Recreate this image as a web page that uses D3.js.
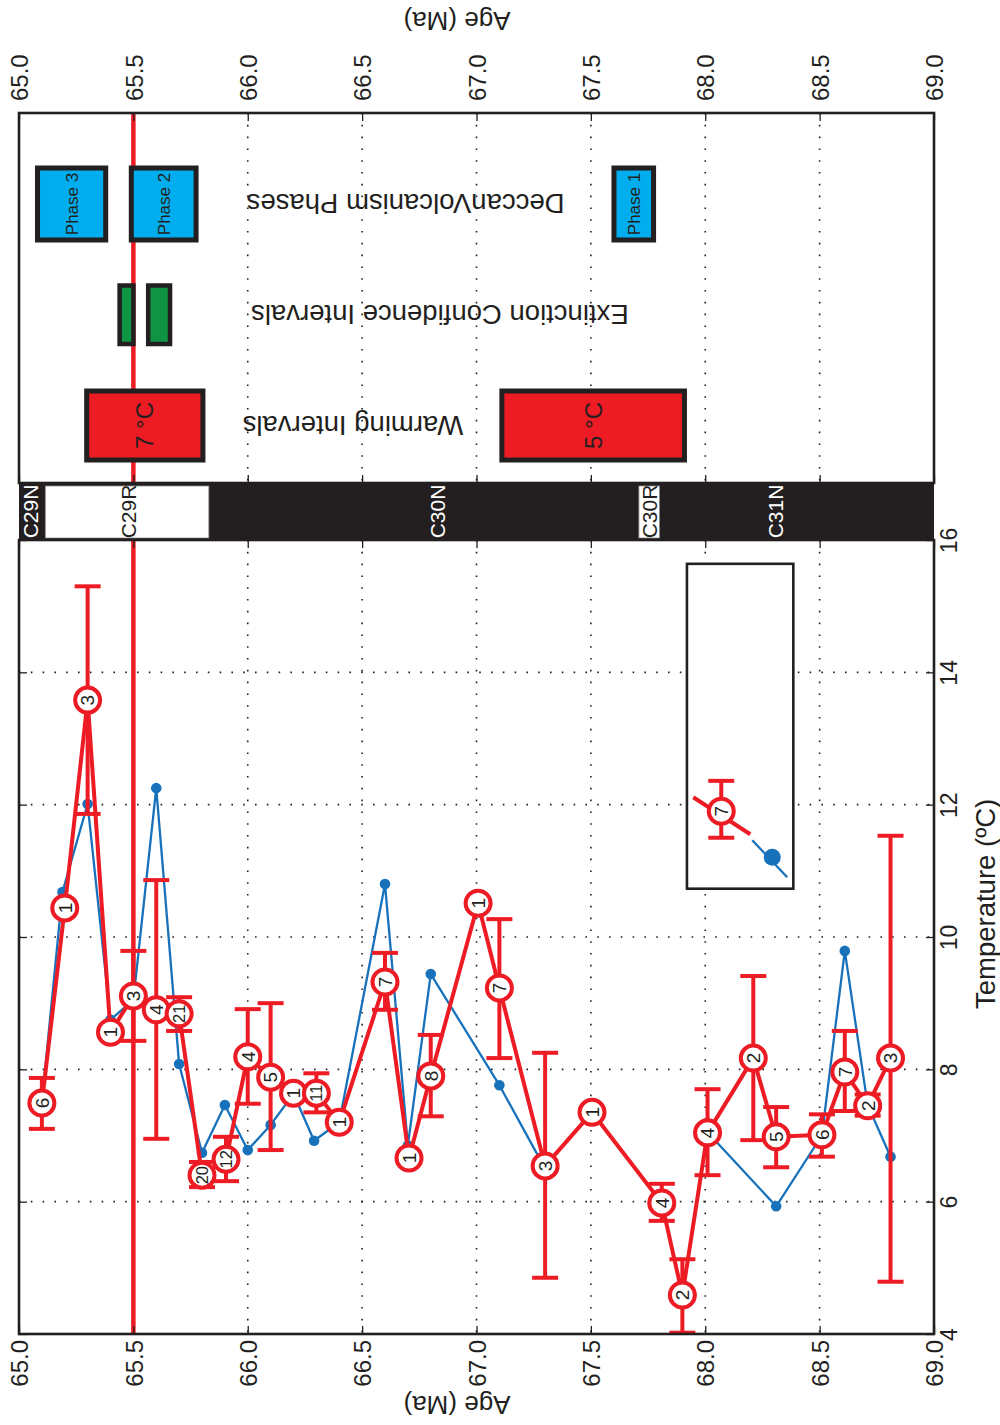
<!DOCTYPE html>
<html><head><meta charset="utf-8">
<script src="https://cdn.jsdelivr.net/npm/d3@7"></script>
<style>
body{margin:0;background:#fff}
svg{display:block}
text{font-family:"Liberation Sans",Arial,Helvetica,sans-serif}
</style>
</head><body>
<svg id="c" width="1000" height="1425"></svg>
<script>
// ---------------- data ----------------
const ageTicks = [65.0,65.5,66.0,66.5,67.0,67.5,68.0,68.5,69.0];
const tempTicks = [4,6,8,10,12,14,16];

const redAge  = [65.10,65.20,65.30,65.40,65.50,65.60,65.70,65.80,65.905,66.00,66.10,66.20,66.30,66.40,66.60,66.705,66.80,67.007,67.10,67.30,67.505,67.81,67.90,68.01,68.21,68.31,68.51,68.61,68.71,68.81];
const redTemp = [7.49,10.44,13.58,8.56,9.11,8.90,8.84,6.40,6.64,8.19,7.88,7.64,7.64,7.20,9.32,6.66,7.90,10.51,9.23,6.54,7.35,5.98,4.59,7.04,8.17,6.98,7.01,7.96,7.45,8.17];
const redN    = [6,1,3,1,3,4,21,20,12,4,5,1,11,1,7,1,8,1,7,3,1,4,2,4,2,5,6,7,2,3];
const redHi   = [7.87,null,15.30,null,9.79,10.86,9.09,6.60,6.98,8.91,9.00,null,7.94,null,9.76,null,8.52,null,10.27,8.25,null,6.27,5.13,7.70,9.41,7.43,7.32,8.58,7.62,11.53];
const redLo   = [7.10,null,11.86,null,8.43,6.95,8.58,6.22,6.31,7.48,6.78,null,7.35,null,8.90,null,7.29,null,8.17,4.85,null,5.71,4.02,6.40,6.93,6.52,6.68,7.37,7.30,4.79];

const blueAge  = [65.10,65.19,65.30,65.40,65.50,65.60,65.70,65.80,65.90,66.00,66.10,66.20,66.29,66.40,66.60,66.70,66.80,67.10,67.30,67.65,68.01,68.31,68.51,68.61,68.71,68.81];
const blueTemp = [7.50,10.68,12.01,8.75,9.05,12.25,8.08,6.74,7.46,6.78,7.16,7.63,6.92,7.20,10.80,6.85,9.44,7.76,6.50,null,7.05,5.93,7.00,9.79,7.46,6.68];

const rowKeys   = ["deccan","extinction","warming"];
const rowLabels = ["DeccanVolcanism Phases","Extinction Confidence Intervals","Warming Intervals"];
const rowLabelAge = [66.69,66.84,66.46];

const phaseName  = ["Phase 3","Phase 2","Phase 1"];
const phaseStart = [65.07,65.48,67.59];
const phaseEnd   = [65.39,65.785,67.785];

const extStart = [65.43,65.555];
const extEnd   = [65.51,65.67];

const warmStart = [65.285,67.10];
const warmEnd   = [65.815,67.92];
const warmLabel = ["7 °C","5 °C"];

const chronName  = ["C29N","C29R","C30N","C30R","C31N"];
const chronStart = [65.0,65.115,65.83,67.71,67.80];
const chronEnd   = [65.115,65.83,67.71,67.80,69.0];
const chronPol   = ["N","R","N","R","N"];
const chronLabelAge = [65.05,65.48,66.83,67.755,68.305];

const kpgAge = 65.5;

// ---------------- layout ----------------
const RED="#ed1c24", BLUE="#1872bb", INK="#231f20";
const upperTop=113, upperBot=483, bandBot=540, lowBot=1334;
const x = d3.scaleLinear().domain([65,69]).range([19,934]);
const y = d3.scaleLinear().domain([4,16]).range([lowBot,bandBot]);
const row = d3.scalePoint().domain(rowKeys).range([204,425.5]);
const rowH = {deccan:77, extinction:63, warming:74};

const svg = d3.select("#c");
svg.append("rect").attr("width",1000).attr("height",1425).attr("fill","#fff");

// grid
const grid = svg.append("g").attr("stroke",INK).attr("stroke-width",1.6).attr("stroke-dasharray","1.6,10.2");
const inner = ageTicks.slice(1,-1);
grid.selectAll(".gl").data(inner).join("line").attr("x1",d=>x(d)).attr("x2",d=>x(d)).attr("y1",bandBot).attr("y2",lowBot);
grid.selectAll(".gu").data(inner).join("line").attr("class","gu").attr("x1",d=>x(d)).attr("x2",d=>x(d)).attr("y1",upperTop).attr("y2",upperBot);
grid.selectAll(".gh").data(tempTicks.slice(1,-1)).join("line").attr("class","gh").attr("x1",x(65)).attr("x2",x(69)).attr("y1",d=>y(d)).attr("y2",d=>y(d));

// K-Pg line
svg.append("line").attr("x1",x(kpgAge)).attr("x2",x(kpgAge)).attr("y1",upperTop).attr("y2",lowBot)
  .attr("stroke",RED).attr("stroke-width",4.5);

// upper panel boxes
function boxes(starts, ends, key, fill, sw){
  const h=rowH[key], cy=row(key);
  return svg.append("g").selectAll("rect").data(starts.map((s,i)=>({s,e:ends[i],i}))).join("rect")
    .attr("x",d=>x(d.s)+sw/2).attr("width",d=>x(d.e)-x(d.s)-sw)
    .attr("y",cy-h/2+sw/2).attr("height",h-sw)
    .attr("fill",fill).attr("stroke",INK).attr("stroke-width",sw);
}
boxes(phaseStart,phaseEnd,"deccan","#00aeef",5);
boxes(extStart,extEnd,"extinction","#0f9444",4.5);
boxes(warmStart,warmEnd,"warming",RED,5);

svg.append("g").selectAll("text").data(phaseName).join("text")
  .attr("transform",(d,i)=>`translate(${x((phaseStart[i]+phaseEnd[i])/2)},${row("deccan")}) rotate(-90)`)
  .attr("text-anchor","middle").attr("dy","0.35em").attr("font-size",17).attr("fill",INK).text(d=>d);
svg.append("g").selectAll("text").data(warmLabel).join("text")
  .attr("transform",(d,i)=>`translate(${x((warmStart[i]+warmEnd[i])/2)},${row("warming")}) rotate(-90)`)
  .attr("text-anchor","middle").attr("dy","0.35em").attr("font-size",24).attr("fill",INK).text(d=>d);
svg.append("g").selectAll("text").data(rowLabels).join("text")
  .attr("transform",(d,i)=>`translate(${x(rowLabelAge[i])},${row(rowKeys[i])}) rotate(180)`)
  .attr("text-anchor","middle").attr("dy","0.35em").attr("font-size",27.5).attr("fill",INK).text(d=>d);

// magnetochron band
svg.append("rect").attr("x",x(65)).attr("width",x(69)-x(65)).attr("y",upperBot).attr("height",bandBot-upperBot).attr("fill",INK);
svg.append("g").selectAll("rect").data(chronName.map((n,i)=>({n,i})).filter(d=>chronPol[d.i]==="R")).join("rect")
  .attr("x",d=>x(chronStart[d.i])).attr("width",d=>x(chronEnd[d.i])-x(chronStart[d.i]))
  .attr("y",upperBot+3).attr("height",bandBot-upperBot-5).attr("fill","#fff").attr("stroke","#888").attr("stroke-width",0.8);
svg.append("g").selectAll("text").data(chronName).join("text")
  .attr("transform",(d,i)=>`translate(${x(chronLabelAge[i])},${(upperBot+bandBot)/2}) rotate(-90)`)
  .attr("text-anchor","middle").attr("dy","0.36em").attr("font-size",21).attr("fill",(d,i)=>chronPol[i]==="R"?INK:"#fff").text(d=>d);

// blue series
const blue = blueAge.map((a,i)=>({a,t:blueTemp[i]}));
svg.append("path").datum(blue)
  .attr("d",d3.line().defined(d=>d.t!==null).x(d=>x(d.a)).y(d=>y(d.t)))
  .attr("fill","none").attr("stroke",BLUE).attr("stroke-width",2.3).attr("stroke-linejoin","round");
svg.append("g").selectAll("circle").data(blue.filter(d=>d.t!==null)).join("circle")
  .attr("cx",d=>x(d.a)).attr("cy",d=>y(d.t)).attr("r",5.3).attr("fill",BLUE);

// red series
const red = redAge.map((a,i)=>({a,t:redTemp[i],n:redN[i],hi:redHi[i],lo:redLo[i]}));
const eb = svg.append("g").attr("stroke",RED).attr("stroke-width",4);
const ebd = red.filter(d=>d.hi!==null);
eb.selectAll(".v").data(ebd).join("line").attr("x1",d=>x(d.a)).attr("x2",d=>x(d.a)).attr("y1",d=>y(d.hi)).attr("y2",d=>y(d.lo));
eb.selectAll(".ct").data(ebd).join("line").attr("class","ct").attr("x1",d=>x(d.a)-13).attr("x2",d=>x(d.a)+13).attr("y1",d=>y(d.hi)).attr("y2",d=>y(d.hi));
eb.selectAll(".cb").data(ebd).join("line").attr("class","cb").attr("x1",d=>x(d.a)-13).attr("x2",d=>x(d.a)+13).attr("y1",d=>y(d.lo)).attr("y2",d=>y(d.lo));
svg.append("path").datum(red)
  .attr("d",d3.line().x(d=>x(d.a)).y(d=>y(d.t)))
  .attr("fill","none").attr("stroke",RED).attr("stroke-width",4).attr("stroke-linejoin","round");
const mk = svg.append("g").selectAll("g").data(red).join("g").attr("transform",d=>`translate(${x(d.a)},${y(d.t)})`);
mk.append("circle").attr("r",12.5).attr("fill","#fff").attr("stroke",RED).attr("stroke-width",4);
mk.append("text").attr("transform","rotate(-90)").attr("text-anchor","middle").attr("dy","0.36em")
  .attr("font-size",d=>String(d.n).length>1?16.5:19).attr("fill",INK).text(d=>d.n);

// axes
function styleAxis(g){ g.select(".domain").remove(); g.selectAll(".tick line").attr("stroke",INK).attr("stroke-width",1.3); g.attr("font-family",null).attr("font-size",null); }
svg.append("g").attr("transform",`translate(0,${lowBot})`)
  .call(d3.axisBottom(x).tickValues(ageTicks).tickSize(-8).tickSizeOuter(0).tickFormat(d3.format(".1f")))
  .call(styleAxis)
  .call(g=>g.selectAll("text").attr("x",0).attr("y",0).attr("dy","0.36em").attr("transform","translate(0,6) rotate(-90)")
    .attr("text-anchor","end").attr("font-size",24).attr("fill",INK));
svg.append("g").attr("transform",`translate(0,${upperTop})`)
  .call(d3.axisTop(x).tickValues(ageTicks).tickSize(-8).tickSizeOuter(0).tickFormat(d3.format(".1f")))
  .call(styleAxis)
  .call(g=>g.selectAll("text").attr("x",0).attr("y",0).attr("dy","0.36em").attr("transform","translate(0,-12) rotate(-90)")
    .attr("text-anchor","start").attr("font-size",24).attr("fill",INK));
svg.append("g").attr("transform",`translate(0,${bandBot})`)
  .call(d3.axisTop(x).tickValues(ageTicks).tickSize(-8).tickSizeOuter(0).tickFormat("")).call(styleAxis);
svg.append("g").attr("transform",`translate(0,${upperBot})`)
  .call(d3.axisBottom(x).tickValues(ageTicks).tickSize(-8).tickSizeOuter(0).tickFormat("")).call(styleAxis);
svg.append("g").attr("transform",`translate(${x(69)},0)`)
  .call(d3.axisRight(y).tickValues(tempTicks).tickSize(-8).tickSizeOuter(0).tickFormat(d3.format("d")))
  .call(styleAxis)
  .call(g=>g.selectAll("text").attr("x",0).attr("y",0).attr("dy","0.36em").attr("transform","translate(15,0) rotate(-90)")
    .attr("text-anchor","middle").attr("font-size",23).attr("fill",INK));
svg.append("g").attr("transform",`translate(${x(65)},0)`)
  .call(d3.axisLeft(y).tickValues(tempTicks).tickSize(-8).tickSizeOuter(0).tickFormat("")).call(styleAxis);

// frames
svg.append("rect").attr("x",x(65)).attr("y",upperTop).attr("width",x(69)-x(65)).attr("height",upperBot-upperTop)
  .attr("fill","none").attr("stroke",INK).attr("stroke-width",2.6);
svg.append("rect").attr("x",x(65)).attr("y",bandBot).attr("width",x(69)-x(65)).attr("height",lowBot-bandBot)
  .attr("fill","none").attr("stroke",INK).attr("stroke-width",2.6);

// axis titles
svg.append("text").attr("transform",`translate(${x(66.915)},1405) rotate(180)`).attr("text-anchor","middle").attr("dy","0.35em")
  .attr("font-size",26).attr("fill",INK).text("Age (Ma)");
svg.append("text").attr("transform",`translate(${x(66.915)},21) rotate(180)`).attr("text-anchor","middle").attr("dy","0.35em")
  .attr("font-size",26).attr("fill",INK).text("Age (Ma)");
svg.append("text").attr("transform",`translate(985,${y(10.5)}) rotate(-90)`).attr("text-anchor","middle").attr("dy","0.35em")
  .attr("font-size",27.5).attr("fill",INK).text("Temperature (ºC)");

// legend inset
const legAge=[67.92,68.385], legTemp=[15.64,10.73];
svg.append("rect").attr("x",x(legAge[0])).attr("y",y(legTemp[0])).attr("width",x(legAge[1])-x(legAge[0])).attr("height",y(legTemp[1])-y(legTemp[0]))
  .attr("fill","#fff").attr("stroke",INK).attr("stroke-width",2.6);
const lc = {a:68.07, t:11.90, hi:12.36, lo:11.50};
const lx=x(lc.a), ly=y(lc.t);
const lg = svg.append("g");
lg.append("line").attr("x1",lx-28).attr("y1",ly-14).attr("x2",lx+29).attr("y2",ly+23).attr("stroke",RED).attr("stroke-width",4);
lg.append("line").attr("x1",lx).attr("x2",lx).attr("y1",y(lc.hi)).attr("y2",y(lc.lo)).attr("stroke",RED).attr("stroke-width",4);
[lc.hi,lc.lo].forEach(v=>lg.append("line").attr("x1",lx-13).attr("x2",lx+13).attr("y1",y(v)).attr("y2",y(v)).attr("stroke",RED).attr("stroke-width",4));
lg.append("circle").attr("cx",lx).attr("cy",ly).attr("r",12.5).attr("fill","#fff").attr("stroke",RED).attr("stroke-width",4);
lg.append("text").attr("transform",`translate(${lx},${ly}) rotate(-90)`).attr("text-anchor","middle").attr("dy","0.36em").attr("font-size",19).attr("fill",INK).text("7");
lg.append("line").attr("x1",lx+31).attr("y1",ly+29).attr("x2",lx+66).attr("y2",ly+66).attr("stroke",BLUE).attr("stroke-width",2.3);
lg.append("circle").attr("cx",lx+51).attr("cy",ly+46).attr("r",8.5).attr("fill",BLUE);
</script>
</body></html>
